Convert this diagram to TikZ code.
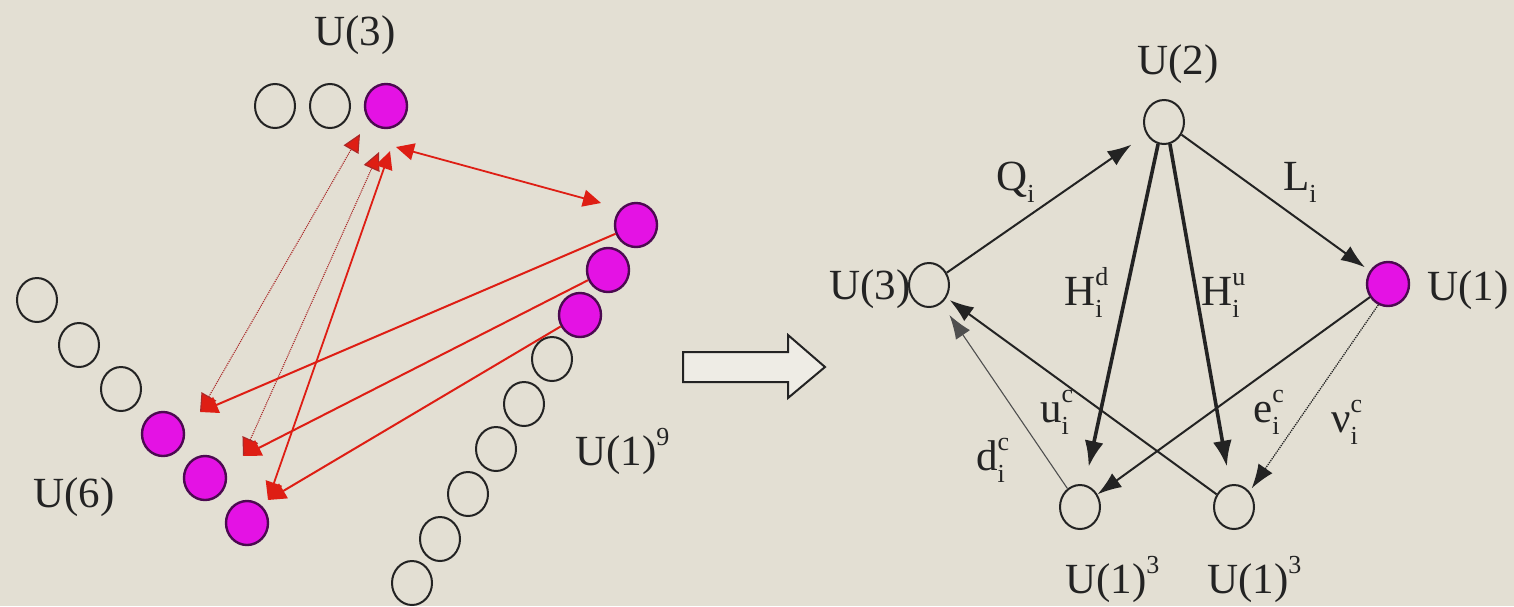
\documentclass[tikz,border=0pt]{standalone}
\usepackage{fontspec}
\setmainfont{Liberation Serif}
\newfontfamily\tms{Liberation Serif}
\usetikzlibrary{arrows.meta,shapes.geometric}
\definecolor{bg}{RGB}{227,223,211}
\definecolor{mag}{RGB}{228,18,228}
\definecolor{magb}{RGB}{75,10,80}
\definecolor{rd}{RGB}{222,30,20}
\definecolor{rdd}{RGB}{170,40,40}
\definecolor{ink}{RGB}{35,35,35}
\newcommand\scr{\fontsize{26}{28}\selectfont}
\newcommand\lab[3]{#1\makebox[0pt][l]{\raisebox{0.45em}{\scr #2}}\raisebox{-0.28em}{\scr #3}}
\begin{document}
\begin{tikzpicture}[x=1pt,y=-1pt,
  ring/.style={ellipse,draw=ink,line width=2pt,minimum width=40pt,minimum height=44pt,inner sep=0pt},
  dot/.style={ellipse,draw=magb,line width=2.4pt,fill=mag,minimum width=42pt,minimum height=44pt,inner sep=0pt},
  txt/.style={font=\tms\fontsize{43}{48}\selectfont,text=ink,inner sep=0pt},
  rline/.style={draw=rd,line width=2pt,-{Triangle[length=18pt,width=17pt]}},
  rdot/.style={draw=rdd,line width=1.1pt,densely dotted,{Triangle[length=18pt,width=17pt,fill=rd]}-{Triangle[length=18pt,width=17pt,fill=rd]}},
  rsolid/.style={draw=rd,line width=1.8pt,{Triangle[length=18pt,width=17pt]}-{Triangle[length=18pt,width=17pt]}},
  barr/.style={draw=ink,line width=2pt,-{Latex[length=24pt,width=17pt]}},
  bthick/.style={draw=ink,line width=3.6pt,-{Latex[length=26pt,width=19pt]}},
  bthin/.style={draw=ink!80,line width=1.1pt,-{Latex[length=24pt,width=17pt]}},
  bdot/.style={draw=ink,line width=1.3pt,densely dotted,-{Latex[length=24pt,width=17pt]}}
]
\useasboundingbox (0,0) rectangle (1514,606);
\fill[bg] (0,0) rectangle (1514,606);

% ---------- left: U(3)
\node[txt] (lU3) at (355,35) {U(3)};
\node[ring] (a1) at (275,106) {};
\node[ring] (a2) at (330,106) {};
\node[dot]  (a3) at (386,106) {};

% ---------- left: U(6)
\node[ring] (s1) at (37,300) {};
\node[ring] (s2) at (79,345) {};
\node[ring] (s3) at (121,389) {};
\node[dot]  (s4) at (163,434) {};
\node[dot]  (s5) at (205,478) {};
\node[dot]  (s6) at (247,523) {};
\node[txt] (lU6) at (74,497) {U(6)};

% ---------- left: U(1)^9
\node[dot]  (n1) at (636,225) {};
\node[dot]  (n2) at (608,270) {};
\node[dot]  (n3) at (580,315) {};
\node[ring] (n4) at (552,359) {};
\node[ring] (n5) at (524,404) {};
\node[ring] (n6) at (496,449) {};
\node[ring] (n7) at (468,494) {};
\node[ring] (n8) at (440,539) {};
\node[ring] (n9) at (412,583) {};
\node[txt,anchor=base west] (lU19) at (575,465) {U(1)\raisebox{0.45em}{\scr 9}};

% arrow tips
\coordinate (ta) at (360,134);
\coordinate (tb) at (379,152);
\coordinate (tc) at (390,151);
\coordinate (td) at (396,147);
\coordinate (te) at (601,203);
\coordinate (ua) at (200,412);
\coordinate (ub) at (243,456);
\coordinate (uc) at (268,500);

\draw[rdot] (ua) -- (ta);
\draw[rdot] (ub) -- (tb);
\draw[rsolid] (uc) -- (tc);
\draw[rsolid] (td) -- (te);
\draw[rline] (n1) -- (ua);
\draw[rline] (n2) -- (ub);
\draw[rline] (n3) -- (uc);

% ---------- block arrow
\draw[ink,line width=2pt,fill=bg!60!white] (683,352) -- (788,352) -- (788,335) -- (825,367) -- (788,398) -- (788,382) -- (683,382) -- cycle;

% ---------- right graph
\node[ring] (u2) at (1164,122) {};
\node[txt] (lU2) at (1178,64) {U(2)};
\node[ring] (u3) at (929,285) {};
\node[txt] (lU3r) at (870,289) {U(3)};
\node[dot] (u1) at (1388,284) {};
\node[txt] (lU1) at (1468,290) {U(1)};
\node[ring] (b1) at (1080,507) {};
\node[ring] (b2) at (1234,507) {};
\node[txt,anchor=base west] (lb1) at (1065,593) {U(1)\raisebox{0.45em}{\scr 3}};
\node[txt,anchor=base west] (lb2) at (1207,593) {U(1)\raisebox{0.45em}{\scr 3}};

\draw[barr,shorten >=18pt] (u3) -- (u2);
\draw[barr,shorten >=6pt] (u2) -- (u1);
\draw[bthick,shorten >=18pt] (u2.255) -- (b1);
\draw[bthick,shorten >=18pt] (u2.285) -- (b2);
\draw[barr] (u1) -- (b1);
\draw[bdot,shorten >=4pt] (u1.245) -- (b2.45);
\draw[barr,shorten >=4pt] (b2) -- (u3);
\draw[bthin,shorten >=14pt] (b1) -- (u3);

\node[txt,anchor=base west] (lQ) at (996,190) {\lab{Q}{}{i}};
\node[txt,anchor=base west] (lL) at (1283,190) {\lab{L}{}{i}};
\node[txt,anchor=base west] (lHd) at (1064,305) {\lab{H}{d}{i}};
\node[txt,anchor=base west] (lHu) at (1201,305) {\lab{H}{u}{i}};
\node[txt,anchor=base west] (luc) at (1040,422) {\lab{u}{c}{i}};
\node[txt,anchor=base west] (lec) at (1253,422) {\lab{e}{c}{i}};
\node[txt,anchor=base west] (lnc) at (1331,432) {\lab{ν}{c}{i}};
\node[txt,anchor=base west] (ldc) at (976,470) {\lab{d}{c}{i}};
\end{tikzpicture}
\end{document}
